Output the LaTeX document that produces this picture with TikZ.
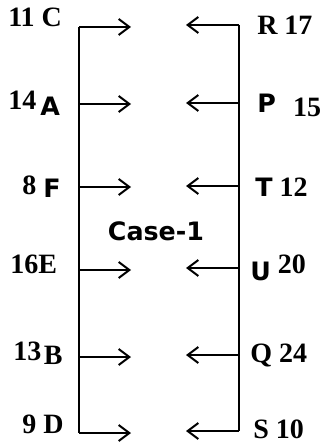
\documentclass[tikz,border=0pt]{standalone}
\usepackage{fontspec}
\setmainfont{Liberation Serif}
\newfontfamily\sansbold{DejaVu Sans}
\usetikzlibrary{arrows.meta}

\newcommand{\seatletter}[1]{{\fontsize{19}{21}\selectfont\sansbold\bfseries #1}}

\begin{document}
\begin{tikzpicture}[
    x=0.75pt, y=-0.75pt,
    lbl/.style={inner sep=0pt, font=\fontsize{21}{24}\selectfont\bfseries},
    flow/.style={-{Straight Barb[length=8pt,width=12pt]}, line width=1.5pt},
    rail/.style={line width=1.5pt}
]
\useasboundingbox (0,0) rectangle (330,445);

% left rail
\coordinate (l1) at (79,27);
\coordinate (l2) at (79,104);
\coordinate (l3) at (79,187);
\coordinate (l4) at (79,270);
\coordinate (l5) at (79,357);
\coordinate (l6) at (79,433);
\coordinate (la1) at (131,27);
\coordinate (la2) at (131,104);
\coordinate (la3) at (131,187);
\coordinate (la4) at (131,270);
\coordinate (la5) at (131,357);
\coordinate (la6) at (131,433);

% right rail
\coordinate (r1) at (239,25);
\coordinate (r2) at (239,103);
\coordinate (r3) at (239,186);
\coordinate (r4) at (239,268);
\coordinate (r5) at (239,355);
\coordinate (r6) at (239,431);
\coordinate (ra1) at (186,25);
\coordinate (ra2) at (186,103);
\coordinate (ra3) at (186,186);
\coordinate (ra4) at (186,268);
\coordinate (ra5) at (186,355);
\coordinate (ra6) at (186,431);

\draw[rail] (l1) -- (l6);
\draw[rail] (r1) -- (r6);

\draw[flow] (l1) -- (la1);
\draw[flow] (l2) -- (la2);
\draw[flow] (l3) -- (la3);
\draw[flow] (l4) -- (la4);
\draw[flow] (l5) -- (la5);
\draw[flow] (l6) -- (la6);

\draw[flow] (r1) -- (ra1);
\draw[flow] (r2) -- (ra2);
\draw[flow] (r3) -- (ra3);
\draw[flow] (r4) -- (ra4);
\draw[flow] (r5) -- (ra5);
\draw[flow] (r6) -- (ra6);

% left labels (base line given)
\node[lbl, anchor=base west] (c) at (8,27) {11 C};
\node[lbl, anchor=base west] (a) at (8,110) {14\hspace{3pt}\raisebox{-4pt}{\seatletter{A}}};
\node[lbl, anchor=base west] (f) at (22,195) {8 \raisebox{-2pt}{\seatletter{F}}};
\node[lbl, anchor=base west] (e) at (10,273) {16E};
\node[lbl, anchor=base west] (b) at (13,360) {13\hspace{2pt}\raisebox{-3pt}{B}};
\node[lbl, anchor=base west] (d) at (22,433) {9 D};

% right labels
\node[lbl, anchor=base west] (r) at (257,35) {R 17};
\node[lbl, anchor=base west] (p) at (257,113) {\seatletter{P}\hspace{13pt}\raisebox{-3pt}{15}};
\node[lbl, anchor=base west] (t) at (255,196) {\seatletter{T} 12};
\node[lbl, anchor=base west] (u) at (250,280) {\seatletter{U}\raisebox{5pt}{ 20}};
\node[lbl, anchor=base west] (q) at (250,362) {Q 24};
\node[lbl, anchor=base west] (s) at (253,438) {S 10};

% centre
\node[lbl, font=\fontsize{19}{22}\selectfont\sansbold\bfseries] (case) at (156,231) {Case-1};

\end{tikzpicture}
\end{document}
